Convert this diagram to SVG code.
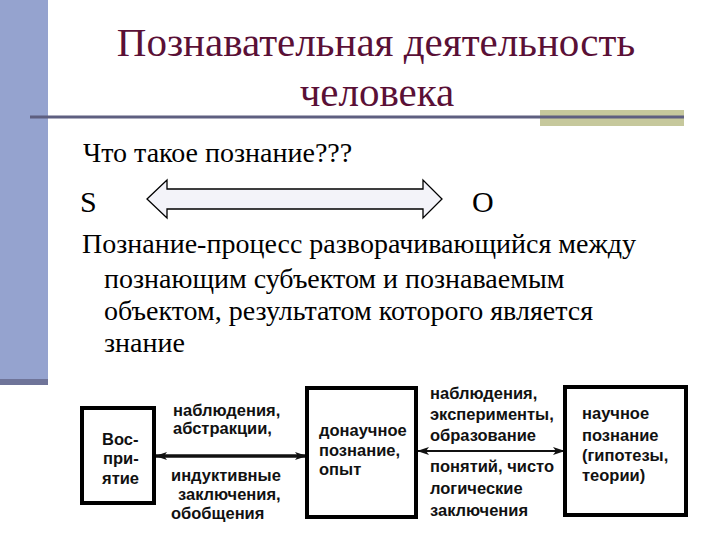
<svg xmlns="http://www.w3.org/2000/svg" width="720" height="540" viewBox="0 0 720 540">
<defs>
<style>
.title{font-family:"Liberation Serif","Times New Roman",serif;font-size:41px;fill:#5A1036;text-anchor:middle}
.body{font-family:"Liberation Serif","Times New Roman",serif;font-size:28px;fill:#000}
.big{font-family:"Liberation Serif","Times New Roman",serif;font-size:30px;fill:#000}
.lbl{font-family:"Liberation Sans",Arial,sans-serif;font-size:16.5px;font-weight:bold;fill:#111}
.box{fill:#fff;stroke:#000;stroke-width:4}
</style>
<marker id="ah" viewBox="0 0 12 8" refX="11" refY="4" markerWidth="12" markerHeight="8" markerUnits="userSpaceOnUse" orient="auto-start-reverse">
<path d="M0,0 L12,4 L0,8 L3,4 Z" fill="#111"/>
</marker>
</defs>
<rect x="0" y="0" width="720" height="540" fill="#fff"/>
<rect x="0" y="0" width="48" height="385" fill="#95A3CF"/>
<rect x="0" y="379" width="48" height="6" fill="#6F7499"/>
<rect x="540" y="110" width="144" height="16" fill="#C6C89C"/>
<line x1="30" y1="117" x2="684" y2="117" stroke="#5E5F80" stroke-width="3"/>
<g id="title">
<text class="title" x="376" y="56">Познавательная деятельность</text>
<text class="title" x="377" y="106">человека</text>
</g>
<text class="body" x="83" y="162">Что такое познание???</text>
<g id="S"><text class="big" x="80" y="212">S</text></g>
<g id="O"><text class="big" x="472" y="212">O</text></g>
<g id="so-arrow">
<polygon points="147,199 167,180 167,189 423,189 423,180 442,199 423,218 423,209 167,209 167,218" fill="#F3F3F9" stroke="#000" stroke-width="1.3"/>
</g>
<g id="para">
<text class="body" x="82" y="253">Познание-процесс разворачивающийся между</text>
<text class="body" x="104" y="288">познающим субъектом и познаваемым</text>
<text class="body" x="104" y="320">объектом, результатом которого является</text>
<text class="body" x="104" y="352">знание</text>
</g>
<g id="connectors">
<line x1="156" y1="456" x2="306" y2="456" stroke="#111" stroke-width="3.5" marker-start="url(#ah)" marker-end="url(#ah)"/>
<line x1="418" y1="451" x2="564" y2="451" stroke="#111" stroke-width="2" marker-start="url(#ah)" marker-end="url(#ah)"/>
</g>
<g id="node-vospriyatie">
<rect class="box" x="82" y="408" width="72" height="95"/>
<text class="lbl" x="102" y="445">Вос-</text>
<text class="lbl" x="103" y="464">при-</text>
<text class="lbl" x="102" y="484">ятие</text>
</g>
<g id="node-donauchnoe">
<rect class="box" x="307" y="388" width="109" height="129"/>
<text class="lbl" x="319" y="436">донаучное</text>
<text class="lbl" x="319" y="456">познание,</text>
<text class="lbl" x="319" y="475">опыт</text>
</g>
<g id="node-nauchnoe">
<rect class="box" x="565" y="387" width="121" height="128"/>
<text class="lbl" x="582" y="419">научное</text>
<text class="lbl" x="582" y="441">познание</text>
<text class="lbl" x="582" y="461">(гипотезы,</text>
<text class="lbl" x="582" y="481">теории)</text>
</g>
<g id="labels-1">
<text class="lbl" x="173" y="416">наблюдения,</text>
<text class="lbl" x="173" y="434">абстракции,</text>
<text class="lbl" x="171" y="481">индуктивные</text>
<text class="lbl" x="178" y="500">заключения,</text>
<text class="lbl" x="171" y="519">обобщения</text>
</g>
<g id="labels-2">
<text class="lbl" x="430" y="399">наблюдения,</text>
<text class="lbl" x="430" y="420">эксперименты,</text>
<text class="lbl" x="430" y="441">образование</text>
<text class="lbl" x="430" y="472">понятий, чисто</text>
<text class="lbl" x="430" y="494">логические</text>
<text class="lbl" x="430" y="516">заключения</text>
</g>
</svg>
